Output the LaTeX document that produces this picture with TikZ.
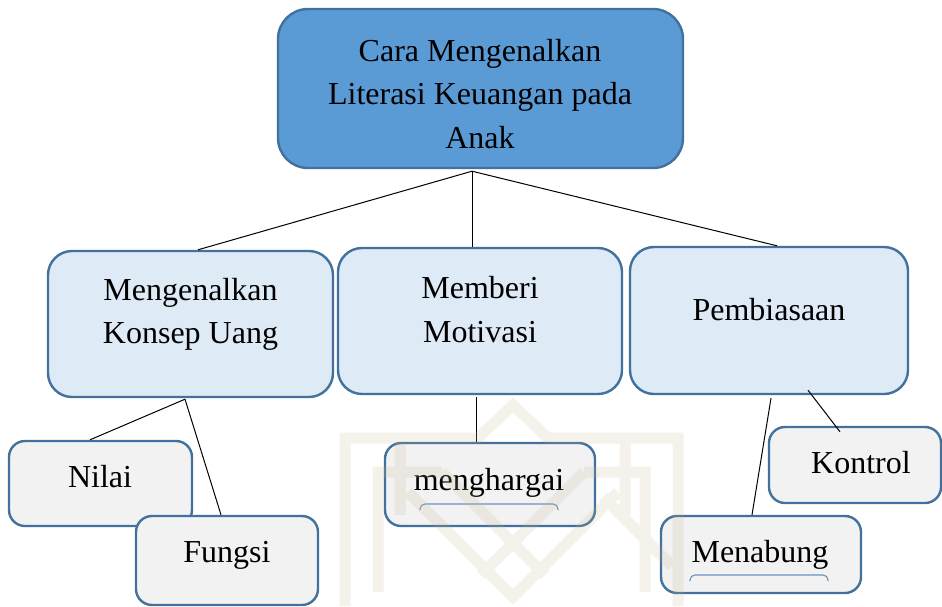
\documentclass[tikz,border=0pt]{standalone}
\usepackage{fontspec}
\setmainfont{Liberation Serif}
\usetikzlibrary{calc}
\definecolor{rootfill}{HTML}{5B9BD5}
\definecolor{edgeblue}{HTML}{41719C}
\definecolor{midfill}{HTML}{DEEAF6}
\definecolor{leaffill}{HTML}{F2F2F2}
\definecolor{bracketblue}{HTML}{6A93BE}
\definecolor{markbeige}{HTML}{C8B58F}

\begin{document}
\begin{tikzpicture}[x=1pt,y=-1pt,
  box/.style={draw=edgeblue, line width=2.4pt, inner sep=0pt},
  rootbox/.style={box, fill=rootfill, rounded corners=30pt},
  midbox/.style={box, fill=midfill, rounded corners=24pt},
  leafbox/.style={box, fill=leaffill, rounded corners=16pt},
  lbl/.style={font=\fontsize{32}{44}\selectfont, anchor=base, inner sep=0pt, text=black},
  link/.style={draw=black, line width=1pt},
  bracket/.style={draw=bracketblue, line width=1.1pt, rounded corners=5pt},
  band/.style={draw=markbeige, line width=11pt, line join=miter}
]
\useasboundingbox (0,0) rectangle (942,606);

% root box
\node[rootbox, minimum width=405pt, minimum height=159pt] (root) at (480.5,88.5) {};
\node[lbl] (root-t1) at (480,61) {Cara Mengenalkan};
\node[lbl] (root-t2) at (480,104) {Literasi Keuangan pada};
\node[lbl] (root-t3) at (480,148) {Anak};

% second level
\node[midbox, minimum width=285pt, minimum height=146pt] (b1) at (190.5,324) {};
\node[lbl] (b1-t1) at (190.5,300) {Mengenalkan};
\node[lbl] (b1-t2) at (190.5,343) {Konsep Uang};

\node[midbox, minimum width=284pt, minimum height=146pt] (b2) at (480,321) {};
\node[lbl] (b2-t1) at (480,298) {Memberi};
\node[lbl] (b2-t2) at (480,342) {Motivasi};

\node[midbox, minimum width=278pt, minimum height=147pt] (b3) at (769,320.5) {};
\node[lbl] (b3-t1) at (769,320) {Pembiasaan};

% leaves
\node[leafbox, minimum width=183pt, minimum height=85pt] (nilai) at (100.5,483.5) {};
\node[lbl] (nilai-t) at (100,487) {Nilai};

\node[leafbox, minimum width=182pt, minimum height=89pt] (fungsi) at (227,560.5) {};
\node[lbl] (fungsi-t) at (227,562) {Fungsi};

\node[leafbox, minimum width=210pt, minimum height=83pt] (hargai) at (490,484.5) {};
\node[lbl] (hargai-t) at (489,490) {menghargai};
\draw[bracket] (420,510) -- (420,504) -- (558,504) -- (558,510);

\node[leafbox, minimum width=172pt, minimum height=76pt] (kontrol) at (855,465) {};
\node[lbl] (kontrol-t) at (861,473) {Kontrol};

\node[leafbox, minimum width=200pt, minimum height=77pt] (tabung) at (761,554.5) {};
\node[lbl] (tabung-t) at (760,562) {Menabung};
\draw[bracket] (690,581) -- (690,575) -- (828,575) -- (828,581);

% connectors
\coordinate (hub) at ($(root.south)+(-8.5,2)$);
\draw[link] (hub) -- ($(b1.north)+(7.5,0)$);
\draw[link] (hub) -- ($(b2.north)+(-8,0)$);
\draw[link] (hub) -- ($(b3.north)+(8,0)$);
\draw[link] ($(b1.south)+(-5.5,1)$) -- ($(nilai.north)+(-10.5,0)$);
\draw[link] ($(b1.south)+(-5.5,1)$) -- ($(fungsi.north)+(-6,0)$);
\draw[link] ($(b2.south)+(-4,2)$) -- ($(hargai.north)+(-14,0)$);
\draw[link] ($(b3.south)+(2,3)$) -- ($(tabung.north)+(-9,0)$);
\draw[link] ($(b3.south)+(39,-5)$) -- ($(kontrol.north)+(-15,6)$);

% faint interlaced emblem printed over the lower middle
\begin{scope}[transparency group, opacity=0.18]
  \draw[band] (345,606) -- (345,438) -- (478,438) -- (513,405) -- (548,438) -- (678,438) -- (678,606);
  \draw[band] (378,592) -- (378,472) -- (442,472);
  \draw[band] (584,472) -- (645,472) -- (645,592);
  \draw[band] (442,472) -- (545,575);
  \draw[band] (584,472) -- (481,575);
  \draw[band] (408,492) -- (513,597) -- (618,492);
  \draw[band] (625,440) -- (625,515);
  \draw[band] (603,497) -- (672,566);
  \draw[band] (400,440) -- (400,515);
\end{scope}
\end{tikzpicture}
\end{document}
